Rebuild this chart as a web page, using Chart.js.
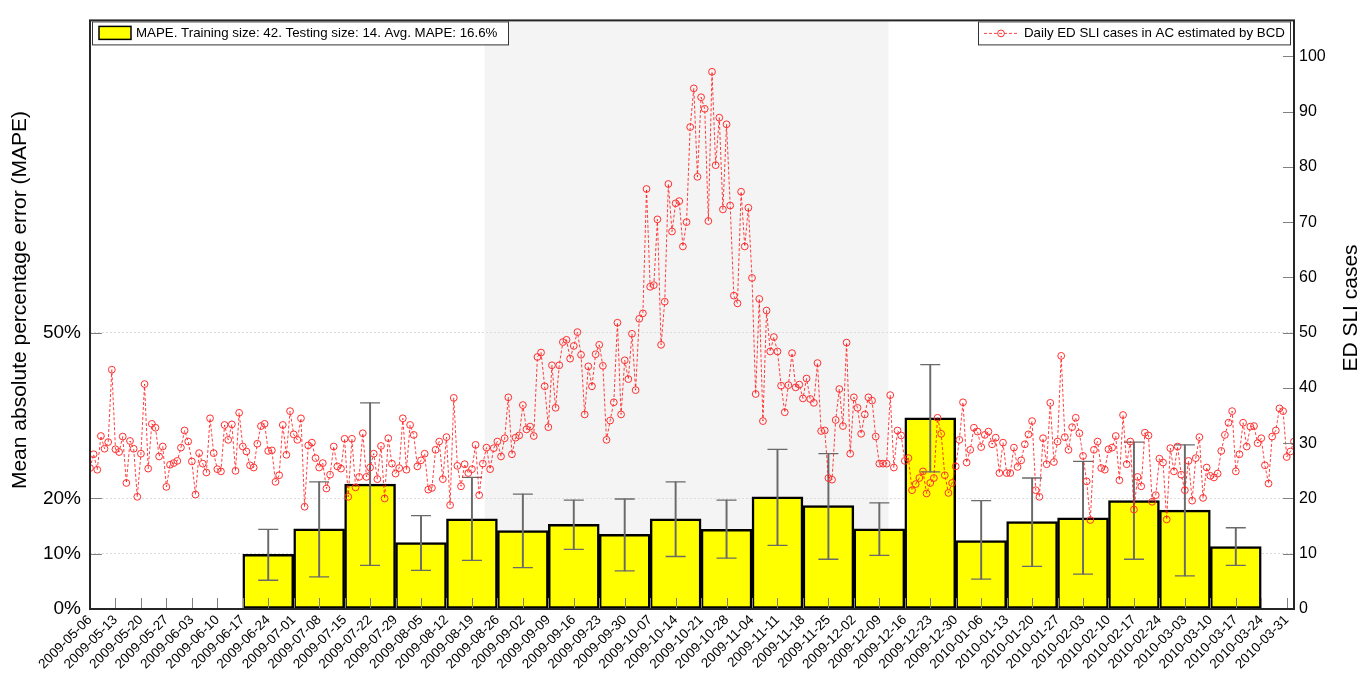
<!DOCTYPE html>
<html>
<head>
<meta charset="utf-8">
<script src="https://cdn.jsdelivr.net/npm/chart.js@4.4.1/dist/chart.umd.min.js"></script>
<style>
html,body{margin:0;padding:0;background:#fff;}
#wrap{width:1372px;height:675px;position:relative;}
canvas{display:block;}
</style>
</head>
<body>
<div id="wrap"><canvas id="c" width="1372" height="675"></canvas></div>
<script>
// ---------------- DATA ----------------
const startDate = '2009-05-06';
const axisEndDate = '2010-04-02';
const weekLabels = ['2009-05-06','2009-05-13','2009-05-20','2009-05-27','2009-06-03','2009-06-10','2009-06-17','2009-06-24','2009-07-01','2009-07-08','2009-07-15','2009-07-22','2009-07-29','2009-08-05','2009-08-12','2009-08-19','2009-08-26','2009-09-02','2009-09-09','2009-09-16','2009-09-23','2009-09-30','2009-10-07','2009-10-14','2009-10-21','2009-10-28','2009-11-04','2009-11-11','2009-11-18','2009-11-25','2009-12-02','2009-12-09','2009-12-16','2009-12-23','2009-12-30','2010-01-06','2010-01-13','2010-01-20','2010-01-27','2010-02-03','2010-02-10','2010-02-17','2010-02-24','2010-03-03','2010-03-10','2010-03-17','2010-03-24','2010-03-31'];

// Daily ED SLI cases (one value per day starting at startDate)
const dailyCases = [
25.5,28.0,25.2,31.3,29.0,30.2,43.3,28.9,28.4,31.2,22.8,30.4,29.0,20.3,28.1,40.7,25.4,33.5,32.8,27.6,
29.4,22.1,26.1,26.4,26.8,29.2,32.3,30.3,26.7,20.7,28.2,26.3,24.7,34.5,28.2,25.3,24.9,33.3,30.6,33.4,
25.0,35.5,29.4,28.5,26.0,25.6,29.9,33.1,33.5,28.6,28.7,23.0,24.2,
33.3,27.9,35.8,31.6,30.6,34.5,18.5,29.6,30.1,27.3,25.6,26.4,21.8,24.3,29.4,25.8,25.4,30.8,20.3,30.8,
22.0,23.9,31.8,23.9,25.6,28.1,23.5,29.5,20.0,30.9,26.3,
24.5,
25.5,34.5,25.2,33.3,31.5,25.8,26.9,28.1,21.6,21.9,28.8,30.3,23.5,31.1,18.8,38.2,25.9,22.2,26.2,24.6,
25.3,29.7,20.6,26.3,29.2,25.3,29.1,30.3,27.6,30.9,38.3,28.0,31.0,31.4,
36.9,32.5,33.0,31.3,45.6,46.4,40.3,32.9,44.1,36.4,44.1,48.3,48.7,45.3,47.6,50.1,46.0,35.2,43.9,40.3,
46.1,47.8,44.0,30.6,34.1,37.4,51.8,35.2,45.0,41.6,49.8,39.6,52.5,53.5,
76.0,58.3,58.6,70.5,47.8,55.6,76.9,68.3,73.4,73.8,65.6,70.0,87.2,94.2,78.2,92.6,90.5,70.2,97.2,80.3,
88.9,72.3,87.7,
73.0,56.7,55.3,75.5,65.6,72.6,59.9,38.9,56.1,34.0,54.0,46.6,49.2,46.6,40.4,35.6,40.5,46.3,40.1,40.6,
38.1,41.7,
38.0,37.3,44.5,32.2,32.3,23.7,23.4,34.2,39.8,33.1,48.2,28.1,38.3,36.4,31.7,35.2,38.3,37.7,31.2,26.3,
26.3,26.3,38.7,25.6,32.3,31.4,26.8,27.3,
21.5,22.6,23.7,24.9,20.9,22.8,23.7,34.6,31.7,24.2,21.0,22.8,25.8,30.6,37.4,26.5,28.8,32.8,32.1,29.3,
31.5,32.1,29.8,31.0,24.6,30.1,24.6,24.6,29.2,25.7,26.9,29.8,31.6,34.0,21.5,20.3,
30.9,26.2,37.3,26.6,30.3,45.8,31.1,28.8,32.9,34.6,31.8,27.7,23.1,16.1,28.8,30.3,25.5,25.2,28.9,29.2,
31.3,23.3,35.1,26.2,30.3,18.0,23.9,22.2,31.9,31.4,19.4,20.6,27.2,
26.5,16.2,29.1,24.9,29.4,24.3,21.5,26.8,19.6,27.3,31.1,20.1,25.6,24.1,23.8,24.5,28.6,31.5,33.7,35.8,
24.9,28.0,33.7,29.4,33.0,33.1,30.0,30.9,26.0,22.7,31.2,32.3,36.3,35.8,27.5,28.5,30.3
];

// MAPE per 14-day testing window
const testWindowDays = 14;
const barStartDates = ['2009-06-17','2009-07-01','2009-07-15','2009-07-29','2009-08-12','2009-08-26','2009-09-09','2009-09-23','2009-10-07','2009-10-21','2009-11-04','2009-11-18','2009-12-02','2009-12-16','2009-12-30','2010-01-13','2010-01-27','2010-02-10','2010-02-24','2010-03-10'];
const mapeValues = [9.9,14.5,22.6,12.0,16.3,14.2,15.3,13.5,16.3,14.4,20.3,18.7,14.5,34.6,12.4,15.8,16.5,19.6,17.9,11.3];
const mapeHigh   = [14.4,23.0,37.3,16.9,23.8,20.8,19.7,19.9,23.0,19.7,28.9,28.1,19.2,44.2,19.6,23.7,26.7,30.2,29.7,14.7];
const mapeLow    = [5.2,5.8,7.9,7.0,8.8,7.5,10.8,6.9,9.5,9.2,11.5,9.0,9.7,24.8,5.4,7.7,6.3,9.0,6.0,7.9];

const leftTicks = [0,10,20,50];
const rightTicks = [0,10,20,30,40,50,60,70,80,90,100];
const yMax = 106.5;
const shadeStartDay = 108.5;
const shadeEndDay = 219.5;

const barLegendText = 'MAPE. Training size: 42. Testing size: 14. Avg. MAPE: 16.6%';
const lineLegendText = 'Daily ED SLI cases in AC estimated by BCD';
const leftTitle = 'Mean absolute percentage error (MAPE)';
const rightTitle = 'ED SLI cases';

// ---------------- HELPERS ----------------
const FONT = '"Liberation Sans", Arial, Helvetica, sans-serif';
function dayOf(d){ return (Date.parse(d+'T00:00:00Z') - Date.parse(startDate+'T00:00:00Z'))/86400000; }
const xMaxDay = dayOf(axisEndDate);
const weekDays = weekLabels.map(dayOf);

const linePoints = dailyCases.map((v,i)=>({x:i,y:v}));
const barCenters = barStartDates.map(d=>dayOf(d)+testWindowDays/2);
const barPoints = barCenters.map((x,i)=>({x:x,y:mapeValues[i]}));
const errPoints = barCenters.map((x,i)=>({x:x,y:[mapeLow[i],mapeHigh[i]]}));
const capPoints = [];
barCenters.forEach((x,i)=>{capPoints.push({x:x,y:mapeHigh[i]});capPoints.push({x:x,y:mapeLow[i]});});

// ---------------- PLUGIN ----------------
const decor = {
  id:'decor',
  beforeDraw(chart){
    const {ctx, chartArea:a, scales} = chart;
    ctx.save();
    ctx.fillStyle='#fff';
    ctx.fillRect(0,0,chart.width,chart.height);
    const xs = scales.x;
    const x0 = xs.getPixelForValue(shadeStartDay), x1 = xs.getPixelForValue(shadeEndDay);
    ctx.fillStyle='#f4f4f4';
    ctx.fillRect(x0,a.top,x1-x0,a.bottom-a.top);
    ctx.restore();
  },
  afterDatasetsDraw(chart){
    const {ctx, chartArea:a, scales} = chart;
    ctx.save();
    ctx.strokeStyle='#808080';
    ctx.lineWidth=1;
    ctx.beginPath();
    weekDays.forEach(d=>{
      const px=Math.round(scales.x.getPixelForValue(d))+0.5;
      ctx.moveTo(px,a.bottom); ctx.lineTo(px,a.bottom-11);
    });
    leftTicks.forEach(v=>{
      const py=Math.round(scales.y.getPixelForValue(v))+0.5;
      ctx.moveTo(a.left,py); ctx.lineTo(a.left+12,py);
    });
    rightTicks.forEach(v=>{
      const py=Math.round(scales.y1.getPixelForValue(v))+0.5;
      ctx.moveTo(a.right,py); ctx.lineTo(a.right-11,py);
    });
    ctx.stroke();
    // frame
    ctx.strokeStyle='#262626';
    ctx.lineWidth=2;
    ctx.strokeRect(a.left,a.top,a.right-a.left,a.bottom-a.top);
    ctx.restore();
  },
  afterDraw(chart){
    const {ctx, chartArea:a} = chart;
    ctx.save();
    // legend left
    ctx.fillStyle='#fff';
    ctx.fillRect(a.left+2,a.top+1,416,23);
    ctx.strokeStyle='#333'; ctx.lineWidth=1;
    ctx.strokeRect(a.left+2.5,a.top+1.5,416,23);
    ctx.fillStyle='#ffff00'; ctx.fillRect(a.left+9,a.top+6,32,13);
    ctx.strokeStyle='#000'; ctx.lineWidth=1.5; ctx.strokeRect(a.left+9,a.top+6,32,13);
    ctx.fillStyle='#000'; ctx.font='13.3px '+FONT; ctx.textBaseline='middle'; ctx.textAlign='left';
    ctx.fillText(barLegendText,a.left+46,a.top+13);
    // legend right
    const rx = a.right-316;
    ctx.fillStyle='#fff'; ctx.fillRect(rx,a.top+1,312,23);
    ctx.strokeStyle='#333'; ctx.lineWidth=1; ctx.strokeRect(rx+0.5,a.top+1.5,312,23);
    ctx.strokeStyle='rgba(255,0,0,0.75)'; ctx.setLineDash([3,2]);
    ctx.beginPath(); ctx.moveTo(rx+6,a.top+13); ctx.lineTo(rx+40,a.top+13); ctx.stroke();
    ctx.setLineDash([]);
    ctx.strokeStyle='#ff3030'; ctx.beginPath(); ctx.arc(rx+23,a.top+13,3.4,0,Math.PI*2); ctx.stroke();
    ctx.fillStyle='#000'; ctx.fillText(lineLegendText,rx+46,a.top+13);
    // titles
    ctx.font='21px '+FONT; ctx.textAlign='center'; ctx.textBaseline='middle';
    ctx.translate(20,300); ctx.rotate(-Math.PI/2); ctx.fillText(leftTitle,0,0);
    ctx.setTransform(1,0,0,1,0,0);
    ctx.translate(1351,308); ctx.rotate(-Math.PI/2); ctx.fillText(rightTitle,0,0);
    ctx.restore();
  }
};

// ---------------- CHART ----------------
new Chart(document.getElementById('c'), {
  type:'line',
  data:{
    datasets:[
      {type:'line', label:lineLegendText, data:linePoints, xAxisID:'x', yAxisID:'y1', order:0,
       borderColor:'rgba(255,0,0,0.75)', borderWidth:1, borderDash:[3,2], tension:0,
       pointRadius:3.4, pointBorderWidth:1, pointBorderColor:'#ff3030', pointBackgroundColor:'rgba(0,0,0,0)', fill:false},
      {type:'line', label:'caps', data:capPoints, xAxisID:'x', yAxisID:'y', order:1, showLine:false,
       pointStyle:'line', pointRadius:10, pointBorderWidth:1.3, pointBorderColor:'#6a6a6a'},
      {type:'bar', label:'err', data:errPoints, xAxisID:'xb', yAxisID:'y', order:2, grouped:false,
       barThickness:1.3, backgroundColor:'#6a6a6a', borderWidth:0},
      {type:'bar', label:barLegendText, data:barPoints, xAxisID:'xb', yAxisID:'y', order:3, grouped:false,
       barPercentage:1, categoryPercentage:1, backgroundColor:'#ffff00', borderColor:'#000', borderWidth:2.5, borderSkipped:false}
    ]
  },
  options:{
    responsive:false, animation:false, devicePixelRatio:1, events:[],
    layout:{padding:{top:14,left:0,right:0,bottom:0}},
    plugins:{legend:{display:false}, tooltip:{enabled:false}},
    scales:{
      x:{type:'linear', position:'bottom', min:0, max:xMaxDay, offset:false,
         afterBuildTicks:s=>{s.ticks=weekDays.map(v=>({value:v}));},
         afterFit:s=>{s.height=66;},
         ticks:{autoSkip:false, minRotation:45, maxRotation:45, padding:3, color:'#000',
                font:{size:13.5, family:FONT}, callback:(v,i)=>weekLabels[i]},
         grid:{display:false, drawTicks:false}, border:{display:false}},
      xb:{type:'linear', display:false, min:0, max:xMaxDay, offset:false,
          afterBuildTicks:s=>{s.ticks=[{value:0},{value:xMaxDay}];}},
      y:{type:'linear', position:'left', min:0, max:yMax,
         afterBuildTicks:s=>{s.ticks=leftTicks.map(v=>({value:v}));},
         afterFit:s=>{s.width=90;},
         ticks:{padding:9, color:'#000', font:{size:19, family:FONT}, callback:v=>v+'%'},
         grid:{color:'#dcdcdc', lineWidth:1, drawTicks:false}, border:{display:false, dash:[2,2]}},
      y1:{type:'linear', position:'right', min:0, max:yMax,
          afterBuildTicks:s=>{s.ticks=rightTicks.map(v=>({value:v}));},
          afterFit:s=>{s.width=78;},
          ticks:{padding:5, color:'#000', font:{size:16, family:FONT}},
          grid:{display:false, drawTicks:false}, border:{display:false}}
    }
  },
  plugins:[decor]
});
</script>
</body>
</html>
